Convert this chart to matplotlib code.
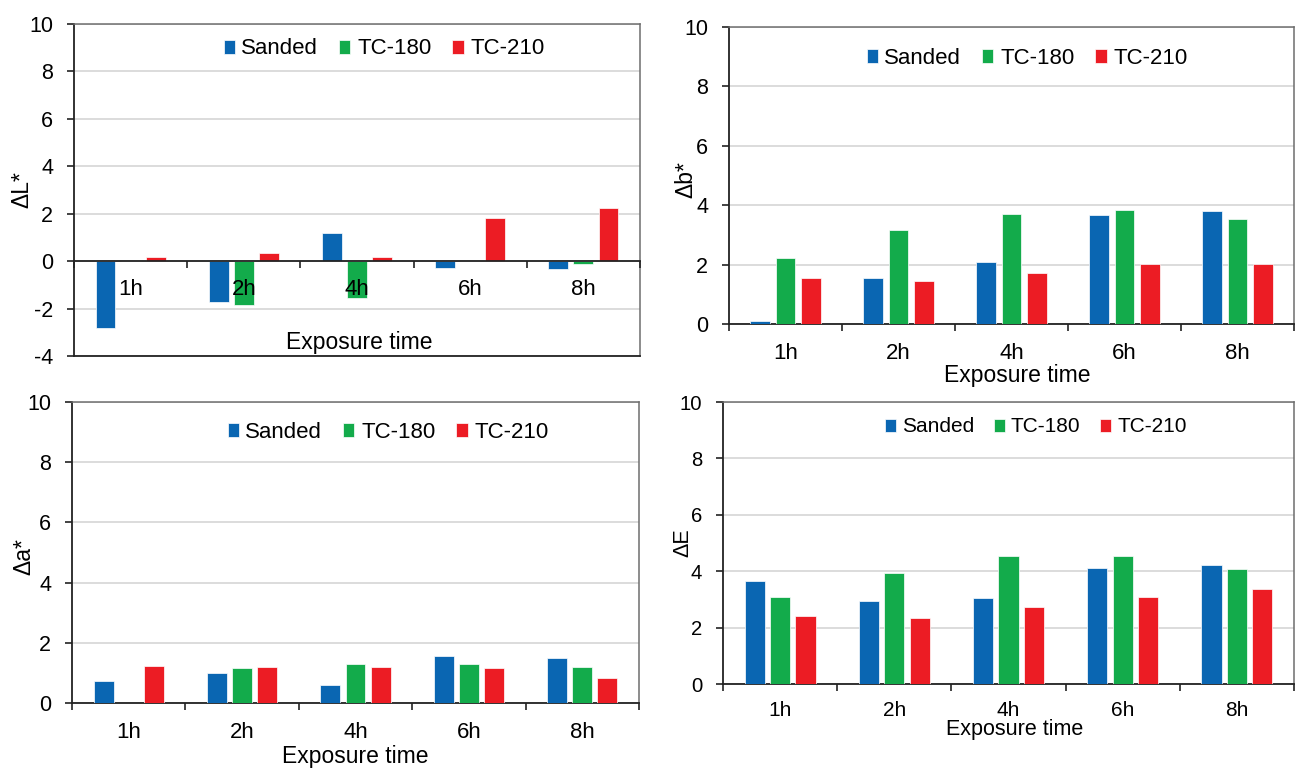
import numpy as np
import matplotlib
matplotlib.use("Agg")
import matplotlib.pyplot as plt

plt.rcParams['font.family'] = ['Liberation Sans', 'DejaVu Sans']
plt.rcParams['axes.unicode_minus'] = False

times = ['1h', '2h', '4h', '6h', '8h']
series = ['Sanded', 'TC-180', 'TC-210']
colors = ['#0a66b2', '#13ab4b', '#ec1c24']

# colour differences per exposure time
dL_sanded = [-2.84, -1.71, 1.18, -0.28, -0.32]
dL_tc180 = [0.0, -1.83, -1.57, 0.0, -0.13]
dL_tc210 = [0.17, 0.34, 0.17, 1.80, 2.23]

db_sanded = [0.11, 1.55, 2.09, 3.67, 3.80]
db_tc180 = [2.22, 3.18, 3.71, 3.84, 3.52]
db_tc210 = [1.55, 1.44, 1.73, 2.02, 2.02]

da_sanded = [0.74, 1.01, 0.60, 1.56, 1.50]
da_tc180 = [0.0, 1.16, 1.31, 1.28, 1.20]
da_tc210 = [1.24, 1.20, 1.20, 1.16, 0.84]

dE_sanded = [3.65, 2.96, 3.06, 4.13, 4.23]
dE_tc180 = [3.09, 3.92, 4.53, 4.55, 4.07]
dE_tc210 = [2.41, 2.34, 2.73, 3.08, 3.38]

W, H = 1298, 769
fig = plt.figure(figsize=(W / 100, H / 100), dpi=100)


def px_axes(left, top, right, bottom):
    return fig.add_axes([left / W, 1 - bottom / H, (right - left) / W, (bottom - top) / H])


def draw_panel(ax, data, ylabel, ymin, ylab_xy, xlab_xy, leg_xy, scale=1.0,
               tick_pad=13, zero_axis=False):
    xfs, yfs, lfs = 16 * scale, 15.5 * scale, 16.5 * scale
    if zero_axis:
        # category axis runs along y=0, frame closed separately at the bottom
        ax.spines['bottom'].set_position(('data', 0))
        ax.axhline(ymin, color='#222222', linewidth=1.3, clip_on=False, zorder=4)

    x = np.arange(len(times))
    for i, (vals, c) in enumerate(zip(data, colors)):
        ax.bar(x + (i - 1) * 0.222, vals, width=0.176, color=c,
               edgecolor='white', linewidth=0.5, label=series[i], zorder=3)
    ax.set_xlim(-0.5, len(times) - 0.5)
    ax.set_ylim(ymin, 10)
    ax.set_yticks(np.arange(ymin, 11, 2))
    ax.yaxis.grid(True, color='#d9d9d9', linewidth=1.3, zorder=0)
    ax.set_axisbelow(True)
    if zero_axis:
        ax.xaxis.set_zorder(4)

    # boundary ticks between groups, labels centred under the groups
    ax.set_xticks(np.arange(-0.5, len(times), 1.0))
    ax.set_xticklabels([])
    ax.set_xticks(x, minor=True)
    ax.set_xticklabels(times, minor=True, fontsize=xfs)
    ax.tick_params(axis='x', which='major', direction='out', length=5, width=1.2, color='#222222')
    ax.tick_params(axis='x', which='minor', length=0, pad=tick_pad, labelsize=xfs)
    ax.tick_params(axis='y', direction='out', length=5, width=1.2, color='#222222',
                   labelsize=yfs, pad=10)

    for s in ['left', 'bottom']:
        ax.spines[s].set_color('#222222')
        ax.spines[s].set_linewidth(1.3)
    for s in ['top', 'right']:
        ax.spines[s].set_color('#6e6e6e')
        ax.spines[s].set_linewidth(1.1)
    if zero_axis:
        ax.spines['bottom'].set_zorder(4)

    ax.set_ylabel(ylabel, fontsize=lfs)
    ax.yaxis.label.set_va('center')
    ax.yaxis.set_label_coords(*ylab_xy)
    ax.set_xlabel('Exposure time', fontsize=lfs)
    ax.xaxis.label.set_va('center')
    ax.xaxis.set_label_coords(*xlab_xy)

    ax.legend(loc='center', bbox_to_anchor=(leg_xy[0] / W, 1 - leg_xy[1] / H),
              bbox_transform=fig.transFigure, ncol=3, frameon=False, fontsize=16 * scale,
              handlelength=0.5, handleheight=0.6, handletextpad=0.3,
              columnspacing=0.95, borderpad=0)


ax1 = px_axes(74, 24, 640, 356)
draw_panel(ax1, [dL_sanded, dL_tc180, dL_tc210], 'ΔL*', -4,
           (-0.092, 0.5), (0.504, 0.042), (384, 49), tick_pad=13, zero_axis=True)

ax2 = px_axes(729, 27, 1294, 324)
draw_panel(ax2, [db_sanded, db_tc180, db_tc210], 'Δb*', 0,
           (-0.076, 0.485), (0.51, -0.172), (1027, 58), tick_pad=14)

ax3 = px_axes(72, 402, 639, 703)
draw_panel(ax3, [da_sanded, da_tc180, da_tc210], 'Δa*', 0,
           (-0.085, 0.488), (0.499, -0.179), (388, 432), tick_pad=14)

ax4 = px_axes(723, 402, 1294, 684)
draw_panel(ax4, [dE_sanded, dE_tc180, dE_tc210], 'ΔE', 0,
           (-0.07, 0.5), (0.511, -0.16), (1036, 427), scale=0.94, tick_pad=12)

fig.savefig('out.png', dpi=100, facecolor='white')
